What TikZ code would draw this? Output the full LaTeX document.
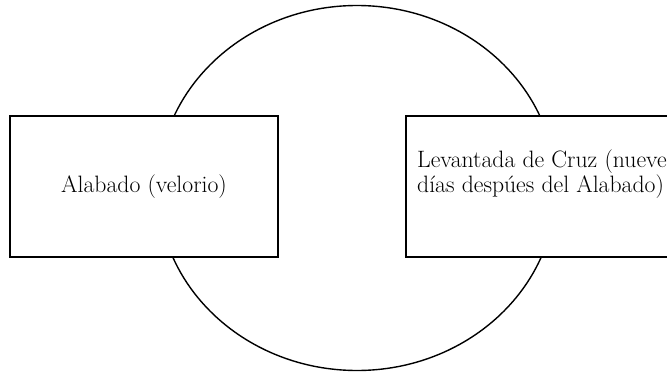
\documentclass[tikz,border=0pt]{standalone}
\usepackage{tikz}
\usetikzlibrary{positioning,calc}

\begin{document}
\begin{tikzpicture}
  [
    x=1pt, y=1pt,
    font=\fontsize{23.7}{23.5}\selectfont,
    box/.style =
      {draw, line width=1.8pt, fill=white, minimum width=268pt, minimum height=141pt, outer sep=0pt},
    txt/.style = {align=left, inner sep=0pt}
  ]
  \useasboundingbox (0, 0) rectangle (667, 373);
  \clip (0, 0) rectangle (667, 373);

  \coordinate (mid) at (357, 185);
  \draw[line width=1.4pt] (mid) ellipse [x radius=199, y radius=182.5];

  \node [box] at (144, 186.5) (alabado) {Alabado (velorio)};
  \node [box, minimum width=300pt, anchor=west] at (406, 186.5) (cruz) {};

  \node [txt, anchor=north west] at ([xshift=11pt, yshift=-34pt]cruz.north west) (cruztxt)
    {Levantada de Cruz (nueve\\ días despúes del Alabado)};

\end{tikzpicture}
\end{document}
